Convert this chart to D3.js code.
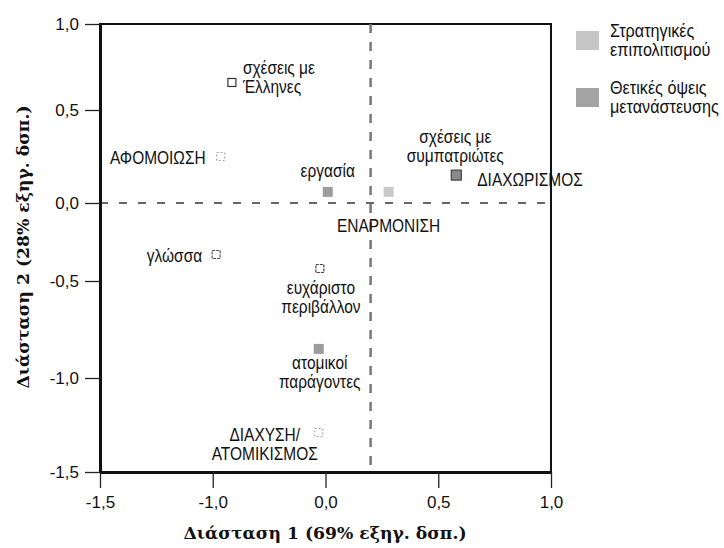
<!DOCTYPE html>
<html>
<head>
<meta charset="utf-8">
<script src="https://cdn.jsdelivr.net/npm/d3@7"></script>
<style>
  body { margin: 0; background: #fff; }
  .lbl { font-family: "Liberation Sans", Arial, sans-serif; font-size: 18px; fill: #111; }
  .tick text { font-family: "Liberation Sans", Arial, sans-serif; font-size: 17px; fill: #111; }
  .title { font-family: "DejaVu Serif", "Liberation Serif", serif; font-size: 17.2px; font-weight: bold; fill: #111; }
</style>
</head>
<body>
<svg></svg>
<script>
// points of the correspondence map (dimension 1, dimension 2)
const pointLines = [
    ['σχέσεις με', 'Έλληνες'],
    ['ΑΦΟΜΟΙΩΣΗ'],
    ['εργασία'],
    ['ΕΝΑΡΜΟΝΙΣΗ'],
    ['ΔΙΑΧΩΡΙΣΜΟΣ'],
    ['σχέσεις με', 'συμπατριώτες'],
    ['γλώσσα'],
    ['ευχάριστο', 'περιβάλλον'],
    ['ατομικοί', 'παράγοντες'],
    ['ΔΙΑΧΥΣΗ/', 'ΑΤΟΜΙΚΙΣΜΟΣ'],
];
const dim1 = [-0.83, -0.93, 0.01, 0.28, 0.58, 0.58, -0.97, -0.05, -0.06, -0.06];
const dim2 = [0.66, 0.25, 0.06, 0.06, 0.15, 0.15, -0.33, -0.42, -0.85, -1.29];
const pointGroup = ['positive', 'strategy', 'positive', 'strategy', 'strategy',
                    'positive', 'positive', 'positive', 'positive', 'strategy'];

const legendGroups = ['strategy', 'positive'];
const legendLabels = [['Στρατηγικές', 'επιπολιτισμού'], ['Θετικές όψεις', 'μετανάστευσης']];

const xTicks = [-1.5, -1.0, 0.0, 0.5, 1.0];
const xTickLabels = ['-1,5', '-1,0', '0,0', '0,5', '1,0'];
const yTicks = [-1.5, -1.0, -0.5, 0.0, 0.5, 1.0];
const yTickLabels = ['-1,5', '-1,0', '-0,5', '0,0', '0,5', '1,0'];

const refX = 0.2;   // vertical dashed line
const refY = 0.0;   // horizontal dashed line

const xTitle = 'Διάσταση 1 (69% εξηγ. δσπ.)';
const yTitle = 'Διάσταση 2 (28% εξηγ. δσπ.)';

// ---- layout / styles ----
const svgWidth = 724, svgHeight = 548;
const margin = { top: 24, left: 100 };
const width = 451, height = 448;
const squeeze = 0.86;        // narrow type like the scan
const legendSqueeze = 0.9;

const groupColor = { strategy: '#c6c6c6', positive: '#a3a3a3' };

// how each marker looks in the scan
const markerLook = [
    { size: 8, fill: '#fff', stroke: '#333', dash: null },
    { size: 8, fill: '#fff', stroke: '#aaa', dash: '2,2' },
    { size: 10, fill: '#9c9c9c', stroke: 'none', dash: null },
    { size: 10, fill: '#c8c8c8', stroke: 'none', dash: null },
    { size: 10, fill: '#c0c0c0', stroke: 'none', dash: null },
    { size: 10, fill: '#8a8a8a', stroke: '#444', dash: null },
    { size: 8, fill: '#fff', stroke: '#555', dash: '3,1' },
    { size: 8, fill: '#fff', stroke: '#444', dash: '3,1' },
    { size: 10, fill: '#9c9c9c', stroke: 'none', dash: null },
    { size: 8, fill: '#fff', stroke: '#aaa', dash: '2,2' },
];

// label placement relative to the marker
const labelPlace = [
    { anchor: 'start', dx: 11, dy: -8 },
    { anchor: 'end', dx: -15, dy: 7 },
    { anchor: 'middle', dx: 0, dy: -15 },
    { anchor: 'middle', dx: 0, dy: 40 },
    { anchor: 'start', dx: 21, dy: 11 },
    { anchor: 'middle', dx: -1, dy: -32 },
    { anchor: 'end', dx: -14, dy: 8 },
    { anchor: 'middle', dx: 1, dy: 25 },
    { anchor: 'middle', dx: 1, dy: 20 },
    { anchor: 'middle', dx: -54, dy: 8 },
];
const lineHeight = 19;

const svg = d3.select('svg')
    .attr('width', svgWidth)
    .attr('height', svgHeight);

const g = svg.append('g')
    .attr('transform', `translate(${margin.left}, ${margin.top})`);

// printed axes are not evenly scaled, so map tick to tick
const xScale = d3.scaleLinear()
    .domain(xTicks)
    .range(xTicks.map((d, i) => i * width / (xTicks.length - 1)));

const yScale = d3.scaleLinear()
    .domain(yTicks)
    .range([448, 354, 257, 179, 86, 0]);

// frame
g.append('rect')
    .attr('width', width)
    .attr('height', height)
    .attr('fill', 'none')
    .attr('stroke', '#111')
    .attr('stroke-width', 2);

// reference lines
g.append('line')
    .attr('x1', xScale(refX)).attr('x2', xScale(refX))
    .attr('y1', 0).attr('y2', height)
    .attr('stroke', '#777')
    .attr('stroke-width', 2.5)
    .attr('stroke-dasharray', '9,9');

g.append('line')
    .attr('x1', 0).attr('x2', width - 6)
    .attr('y1', yScale(refY)).attr('y2', yScale(refY))
    .attr('stroke', '#666')
    .attr('stroke-width', 2)
    .attr('stroke-dasharray', '8,11');

// axes
const xAxis = g.append('g')
    .attr('transform', `translate(0, ${height})`)
    .call(d3.axisBottom(xScale)
        .tickValues(xTicks)
        .tickFormat((d, i) => xTickLabels[i])
        .tickSize(16)
        .tickSizeOuter(0)
        .tickPadding(8));

const yAxis = g.append('g')
    .call(d3.axisLeft(yScale)
        .tickValues(yTicks)
        .tickFormat((d, i) => yTickLabels[i])
        .tickSize(15)
        .tickSizeOuter(0)
        .tickPadding(6));

[xAxis, yAxis].forEach(a => {
    a.select('.domain').attr('stroke', '#111').attr('stroke-width', 3);
    a.selectAll('.tick line').attr('stroke', '#222').attr('stroke-width', 1.3);
});

// markers
const pts = pointLines.map((lines, i) => ({
    lines, x: dim1[i], y: dim2[i], group: pointGroup[i], look: markerLook[i], place: labelPlace[i]
}));

g.selectAll('rect.marker')
    .data(pts)
    .enter()
    .append('rect')
    .attr('class', 'marker')
    .attr('x', d => xScale(d.x) - d.look.size / 2)
    .attr('y', d => yScale(d.y) - d.look.size / 2)
    .attr('width', d => d.look.size)
    .attr('height', d => d.look.size)
    .attr('fill', d => d.look.fill)
    .attr('stroke', d => d.look.stroke)
    .attr('stroke-width', 1.2)
    .attr('stroke-dasharray', d => d.look.dash);

// labels (squeezed horizontally)
const labels = g.selectAll('g.lbl')
    .data(pts)
    .enter()
    .append('g')
    .attr('transform', d =>
        `translate(${xScale(d.x) + d.place.dx}, ${yScale(d.y) + d.place.dy}) scale(${squeeze}, 1)`)
    .append('text')
    .attr('class', 'lbl')
    .attr('text-anchor', d => d.place.anchor);

labels.selectAll('tspan')
    .data(d => d.lines)
    .enter()
    .append('tspan')
    .attr('x', 0)
    .attr('dy', (t, j) => j === 0 ? 0 : lineHeight)
    .text(t => t);

// legend
const legend = svg.append('g')
    .attr('transform', 'translate(576, 31)');

legendGroups.forEach((grp, i) => {
    const row = legend.append('g').attr('transform', `translate(0, ${i * 57})`);
    row.append('rect')
        .attr('width', 23)
        .attr('height', 19)
        .attr('fill', groupColor[grp]);
    const t = row.append('g')
        .attr('transform', `translate(34, 6) scale(${legendSqueeze}, 1)`)
        .append('text')
        .attr('class', 'lbl');
    legendLabels[i].forEach((line, j) => {
        t.append('tspan').attr('x', 0).attr('dy', j === 0 ? 0 : lineHeight).text(line);
    });
});

// axis titles
svg.append('text')
    .attr('class', 'title')
    .attr('x', 325)
    .attr('y', 539)
    .attr('text-anchor', 'middle')
    .text(xTitle);

svg.append('text')
    .attr('class', 'title')
    .attr('transform', 'rotate(-90)')
    .attr('x', -247)
    .attr('y', 29)
    .attr('text-anchor', 'middle')
    .text(yTitle);
</script>
</body>
</html>
